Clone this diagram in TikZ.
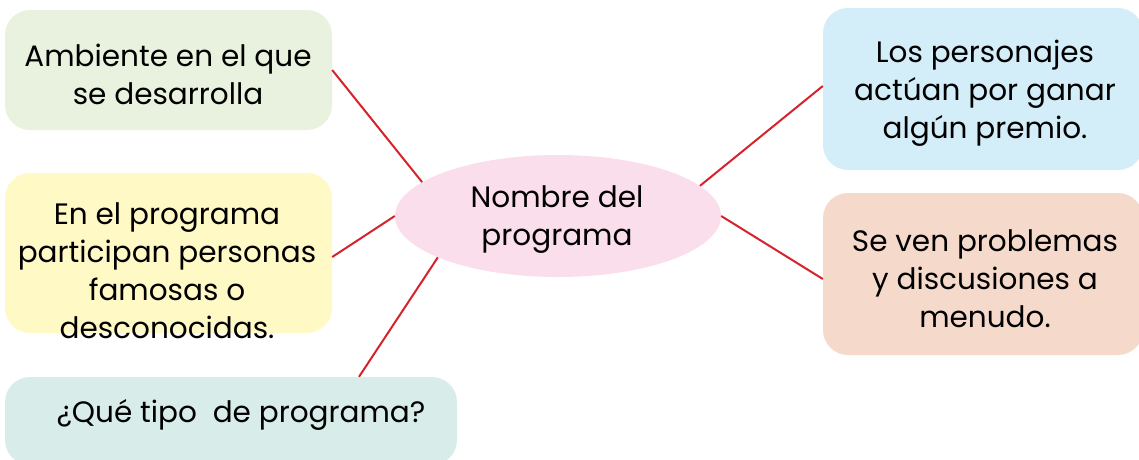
\documentclass[tikz,border=0pt]{standalone}
\usepackage{fontspec}
\setmainfont{Poppins}
\usetikzlibrary{shapes.geometric}
\definecolor{boxgreen}{HTML}{E9F2DF}
\definecolor{boxyellow}{HTML}{FFF9C6}
\definecolor{boxteal}{HTML}{D8EDE9}
\definecolor{boxblue}{HTML}{D3EDF9}
\definecolor{boxpeach}{HTML}{F5DACC}
\definecolor{ellpink}{HTML}{FBDEEB}
\definecolor{linkred}{HTML}{D6232B}
\begin{document}
\begin{tikzpicture}[x=1pt, y=-1pt,
    box/.style={rounded corners=25pt, inner sep=0pt},
    txt/.style={align=center, inner sep=0pt, font=\fontsize{29.5}{38}\selectfont},
    link/.style={line width=2pt, linkred}]
    \useasboundingbox (0,0) rectangle (1139,459);
    \clip (0,0) rectangle (1139,459);

    % Centre ellipse
    \node[ellipse, fill=ellpink, minimum width=326pt, minimum height=122pt, inner sep=0pt] (prog) at (558,216) {};
    \node[txt] (progtxt) at (557,220) {Nombre del\\programa};

    % Boxes on the left
    \node[box, fill=boxgreen, minimum width=327pt, minimum height=120pt] (amb) at (168.5,70) {};
    \node[box, fill=boxyellow, minimum width=327pt, minimum height=160pt] (part) at (168.5,253) {};
    \node[box, fill=boxteal, minimum width=452pt, minimum height=88pt] (tipo) at (231,421) {};
    \node[txt] (ambtxt) at (168,74) {Ambiente en el que\\se desarrolla};
    \node[txt] (parttxt) at (167,271) {En el programa\\participan personas\\famosas o\\desconocidas.};
    \node[txt] (tipotxt) at (241,415) {¿Qué tipo\ \ de programa?};

    % Boxes on the right
    \node[box, fill=boxblue, minimum width=320pt, minimum height=162pt] (pers) at (983,89) {};
    \node[box, fill=boxpeach, minimum width=320pt, minimum height=162pt] (prob) at (983,274) {};
    \node[txt] (perstxt) at (985,93) {Los personajes\\actúan por ganar\\algún premio.};
    \node[txt] (probtxt) at (985,279) {Se ven problemas\\y discusiones a\\menudo.};

    % Links to the centre
    \draw[link] (amb.east) -- (prog.166);
    \draw[link] ([yshift=-4pt]part.east) -- (prog.west);
    \draw[link] ([xshift=128pt]tipo.north) -- (prog.199);
    \draw[link] (prog.12) -- ([yshift=3pt]pers.west);
    \draw[link] (prog.east) -- ([yshift=-5pt]prob.west);
\end{tikzpicture}
\end{document}
